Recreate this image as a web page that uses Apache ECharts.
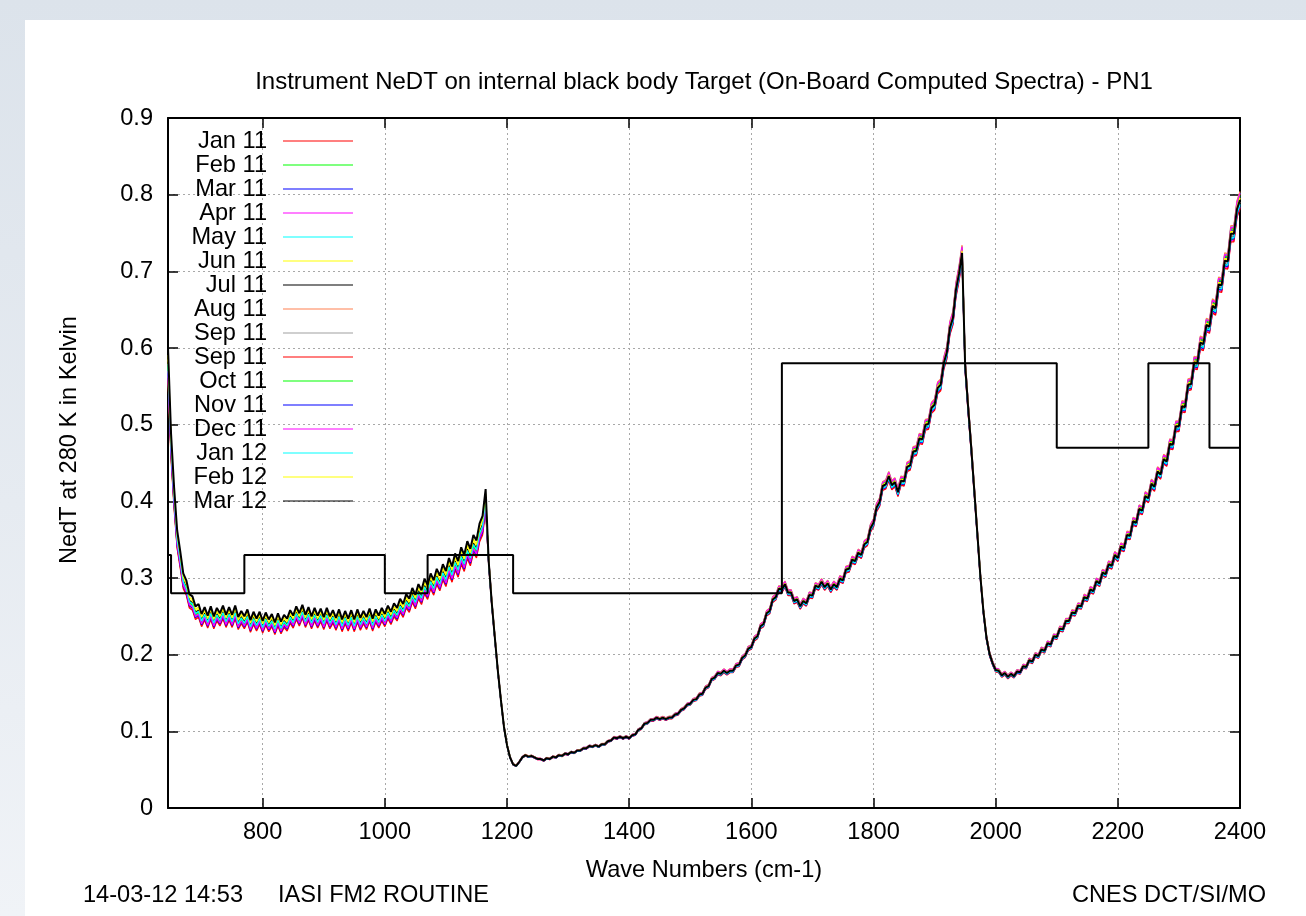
<!DOCTYPE html>
<html>
<head>
<meta charset="utf-8">
<script src="https://cdn.jsdelivr.net/npm/echarts@6/dist/echarts.min.js"></script>
<style>
html,body{margin:0;padding:0;width:1306px;height:916px;overflow:hidden;
  background:linear-gradient(180deg,#dce3eb 0%,#e6ebf1 55%,#f0f3f7 100%);}
#panel{position:absolute;left:25px;top:20px;width:1281px;height:896px;background:#ffffff;}
#chart{position:absolute;left:0;top:0;width:1306px;height:916px;}
</style>
</head>
<body>
<div id="panel"></div>
<div id="chart"></div>
<script>
// ---------------- data ----------------
const monthNames = ['Jan 11','Feb 11','Mar 11','Apr 11','May 11','Jun 11','Jul 11','Aug 11',
  'Sep 11','Sep 11','Oct 11','Nov 11','Dec 11','Jan 12','Feb 12','Mar 12'];
const monthColors = ['#ff0000','#00ff00','#0000ff','#ff00ff','#00ffff','#ffff00','#000000','#ff7f50',
  '#a0a0a0','#ff0000','#00ff00','#0000ff','#ff00ff','#00ffff','#ffff00','#000000'];
// ratio of each month to Mar 12 (band 1 up to the 1165 cm-1 spike, then bands 2-3)
const bandOneRatio   = [0.955,0.945,0.965,0.950,0.960,0.975,0.970,0.940,0.955,0.935,0.960,0.945,0.950,0.965,0.985,1.000];
const otherBandRatio = [1.010,0.990,1.006,0.988,1.012,1.003,0.994,1.014,0.997,0.986,1.008,0.991,1.011,0.993,1.004,1.000];
const bandEdge = 1167;
// spectral grid (cm-1)
const waveStart = 645;
const waveStep = 5;
// Mar 12 NeDT (K) sampled every 5 cm-1 from 645 to 2400
const nedtMar12 = [
0.600,0.488,0.418,0.362,0.335,0.306,0.297,0.279,0.276,0.263,
0.266,0.253,0.262,0.251,0.263,0.250,0.261,0.254,0.264,0.252,
0.262,0.252,0.264,0.249,0.257,0.250,0.259,0.245,0.256,0.247,
0.256,0.244,0.255,0.246,0.253,0.242,0.254,0.243,0.252,0.247,
0.258,0.251,0.263,0.254,0.265,0.252,0.262,0.250,0.261,0.251,
0.260,0.249,0.261,0.250,0.258,0.248,0.259,0.246,0.257,0.247,
0.258,0.246,0.259,0.248,0.257,0.249,0.260,0.247,0.259,0.251,
0.261,0.253,0.264,0.256,0.267,0.261,0.273,0.266,0.279,0.273,
0.287,0.278,0.292,0.284,0.299,0.291,0.306,0.297,0.312,0.303,
0.318,0.309,0.326,0.315,0.332,0.322,0.340,0.330,0.348,0.338,
0.356,0.349,0.371,0.381,0.416,0.322,0.268,0.223,0.179,0.141,
0.106,0.082,0.066,0.057,0.055,0.060,0.066,0.069,0.067,0.068,
0.066,0.064,0.064,0.062,0.065,0.064,0.067,0.066,0.069,0.068,
0.071,0.070,0.073,0.072,0.075,0.075,0.078,0.078,0.081,0.080,
0.082,0.080,0.083,0.083,0.087,0.088,0.092,0.091,0.093,0.091,
0.093,0.091,0.095,0.096,0.102,0.104,0.110,0.111,0.115,0.115,
0.118,0.116,0.118,0.116,0.118,0.118,0.122,0.123,0.128,0.130,
0.135,0.136,0.141,0.142,0.148,0.149,0.157,0.159,0.168,0.170,
0.176,0.175,0.179,0.176,0.179,0.179,0.186,0.187,0.196,0.199,
0.208,0.210,0.221,0.224,0.237,0.240,0.254,0.257,0.272,0.275,
0.286,0.285,0.292,0.281,0.281,0.270,0.272,0.263,0.270,0.267,
0.278,0.277,0.290,0.288,0.295,0.288,0.293,0.285,0.292,0.288,
0.299,0.297,0.311,0.312,0.324,0.322,0.333,0.330,0.344,0.347,
0.365,0.372,0.392,0.399,0.420,0.422,0.433,0.421,0.425,0.412,
0.427,0.426,0.445,0.447,0.465,0.466,0.482,0.481,0.500,0.501,
0.522,0.526,0.548,0.552,0.580,0.594,0.626,0.639,0.676,0.697,
0.724,0.578,0.522,0.470,0.414,0.358,0.302,0.256,0.222,0.201,
0.189,0.180,0.179,0.173,0.176,0.171,0.175,0.172,0.178,0.177,
0.185,0.184,0.193,0.191,0.200,0.198,0.207,0.205,0.215,0.213,
0.224,0.223,0.234,0.233,0.244,0.244,0.255,0.254,0.264,0.263,
0.275,0.273,0.285,0.283,0.296,0.293,0.307,0.305,0.318,0.316,
0.330,0.326,0.341,0.339,0.356,0.355,0.374,0.372,0.390,0.388,
0.407,0.404,0.423,0.419,0.439,0.435,0.455,0.452,0.475,0.474,
0.498,0.498,0.524,0.523,0.552,0.553,0.581,0.580,0.607,0.605,
0.630,0.628,0.655,0.652,0.683,0.682,0.714,0.713,0.749,0.749,
0.781,0.793
];
// specification step line
const limitWave  = [645, 650, 770, 1000, 1070, 1210, 1650, 2100, 2250, 2350, 2400];
const limitValue = [0.33,0.28,0.33,0.28, 0.33, 0.28, 0.58, 0.47, 0.58, 0.47, 0.47];
// axes
const xTicks = [800,1000,1200,1400,1600,1800,2000,2200,2400];
const xMin = 645, xMax = 2400;
const yMin = 0, yMax = 0.9, yStep = 0.1;
const titleText = 'Instrument NeDT on internal black body Target (On-Board Computed Spectra) - PN1';
const xName = 'Wave Numbers (cm-1)';
const yName = 'NedT at 280 K in Kelvin';
const footLeft = '14-03-12 14:53';
const footMid = 'IASI FM2 ROUTINE';
const footRight = 'CNES DCT/SI/MO';

// ---------------- chart ----------------
const FONT = 'Liberation Sans, Arial, Helvetica, sans-serif';
const FS = 23.6;
const waves = nedtMar12.map((_, i) => waveStart + i * waveStep);
const seriesNames = monthNames.map((n, m) =>
  n + ' '.repeat(monthNames.slice(0, m).filter(k => k === n).length));

const series = monthNames.map((n, m) => ({
  type: 'line',
  name: seriesNames[m],
  data: nedtMar12.map((v, i) => [waves[i],
    +(v * (waves[i] < bandEdge ? bandOneRatio[m] : otherBandRatio[m])).toFixed(4)]),
  symbol: 'none',
  lineStyle: { width: m === monthNames.length - 1 ? 2 : 1.3, color: monthColors[m] },
  itemStyle: { color: monthColors[m] },
  silent: true,
  z: 2
}));
series.push({
  type: 'line',
  name: 'limit',
  step: 'end',
  data: limitWave.map((w, i) => [w, limitValue[i]]),
  symbol: 'none',
  lineStyle: { width: 2, color: '#000000' },
  silent: true,
  z: 3
});

const axisLineStyle = { show: true, onZero: false, lineStyle: { color: '#000', width: 2 } };
const tickStyle = { show: true, inside: true, length: 10, lineStyle: { color: '#000', width: 1.5 } };
const gridLine = { show: true, lineStyle: { color: '#a8a8a8', width: 1, type: [2, 3] } };
const plain = v => String(v);

const chart = echarts.init(document.getElementById('chart'), null, { renderer: 'canvas' });
chart.setOption({
  animation: false,
  backgroundColor: 'transparent',
  title: [
    { text: titleText, left: 704, top: 70, textAlign: 'center', padding: 0,
      textStyle: { fontFamily: FONT, fontSize: 24, fontWeight: 'normal', color: '#000' } },
    { text: footLeft, left: 83, top: 883, padding: 0,
      textStyle: { fontFamily: FONT, fontSize: FS, fontWeight: 'normal', color: '#000' } },
    { text: footMid, left: 278, top: 883, padding: 0,
      textStyle: { fontFamily: FONT, fontSize: FS, fontWeight: 'normal', color: '#000' } },
    { text: footRight, right: 40, top: 883, padding: 0,
      textStyle: { fontFamily: FONT, fontSize: FS, fontWeight: 'normal', color: '#000' } }
  ],
  legend: {
    orient: 'vertical',
    left: 183, top: 129, padding: 0, itemGap: 0,
    itemWidth: 70, itemHeight: 2,
    icon: 'rect',
    align: 'right',
    selectedMode: false,
    data: seriesNames,
    formatter: n => '{a|' + n.trim() + '}',
    itemStyle: { opacity: 0.5 },
    textStyle: {
      rich: { a: { width: 84, align: 'right', fontSize: FS, lineHeight: 24,
                   fontFamily: FONT, color: '#000', padding: [0, 11, 0, 0] } }
    }
  },
  grid: { left: 168, right: 66, top: 118, bottom: 108, containLabel: false },
  xAxis: [
    { type: 'value', min: xMin, max: xMax, position: 'bottom',
      name: xName, nameLocation: 'middle', nameGap: 50,
      nameTextStyle: { fontFamily: FONT, fontSize: FS, color: '#000' },
      axisLine: axisLineStyle,
      axisTick: Object.assign({ customValues: xTicks }, tickStyle),
      axisLabel: { customValues: xTicks, formatter: plain, margin: 12, fontFamily: FONT, fontSize: FS, color: '#000' },
      splitLine: gridLine },
    { type: 'value', min: xMin, max: xMax, position: 'top',
      axisLine: axisLineStyle,
      axisTick: Object.assign({ customValues: xTicks }, tickStyle),
      axisLabel: { show: false }, splitLine: { show: false } }
  ],
  yAxis: [
    { type: 'value', min: yMin, max: yMax, interval: yStep, position: 'left',
      name: yName, nameLocation: 'middle', nameGap: 87, nameRotate: 90,
      nameTextStyle: { fontFamily: FONT, fontSize: FS, color: '#000', padding: [0, 0, 0, 46] },
      axisLine: axisLineStyle, axisTick: tickStyle,
      axisLabel: { margin: 15, fontFamily: FONT, fontSize: FS, color: '#000' },
      splitLine: gridLine },
    { type: 'value', min: yMin, max: yMax, interval: yStep, position: 'right',
      axisLine: axisLineStyle, axisTick: tickStyle,
      axisLabel: { show: false }, splitLine: { show: false } }
  ],
  series: series
});
</script>
</body>
</html>
